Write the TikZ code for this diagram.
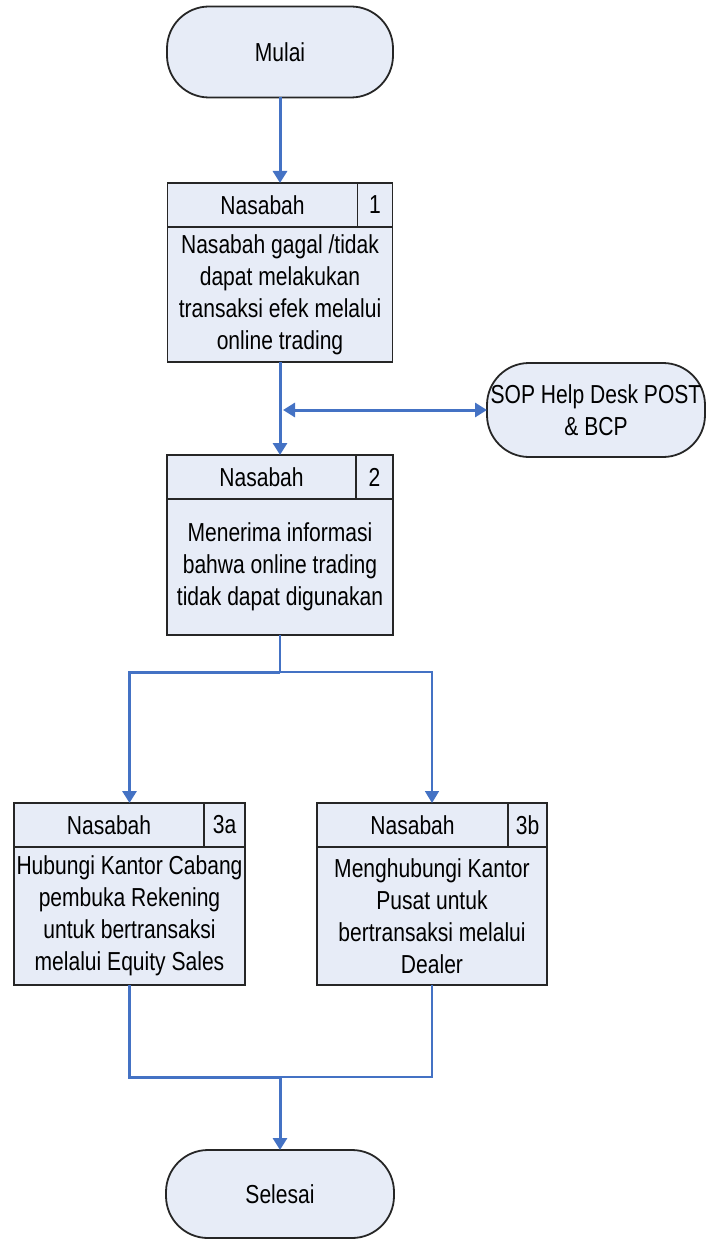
\documentclass[tikz,border=0pt]{standalone}
\usepackage{fontspec}
\setmainfont{Liberation Sans}[FakeStretch=0.81]
\usepackage{tikz}
\usetikzlibrary{arrows.meta, calc}

\definecolor{boxfill}{RGB}{231,236,247}
\definecolor{flowblue}{RGB}{68,114,196}

\begin{document}
\begin{tikzpicture}[x=1pt, y=-1pt,
        every node/.style={font=\fontsize{26}{32}\selectfont, inner sep=0pt, outer sep=0pt},
        term/.style={draw=black!85, line width=1.8pt, fill=boxfill, rounded corners=42pt, align=center},
        head/.style={draw=black!85, line width=1.6pt, fill=boxfill, minimum height=44pt},
        body/.style={draw=black!85, line width=1.6pt, fill=boxfill, align=center},
        flow/.style={draw=flowblue, line width=3pt, -{Triangle[width=14pt,length=12pt]}},
        thinflow/.style={flow, line width=1.8pt},
        link/.style={draw=flowblue, line width=3pt},
        thinlink/.style={draw=flowblue, line width=1.8pt}]
        \useasboundingbox (0,0) rectangle (706,1241);

        % Start
        \node[term, minimum width=226pt, minimum height=91pt] (start) at (280,52) {Mulai};

        % Step 1
        \node[head, minimum width=225pt, anchor=north west] (h1) at (167.5,183) {};
        \node[head, minimum width=35pt, anchor=north east] (n1) at (h1.north east) {1};
        \node (t1) at ($(h1.west)!0.5!(n1.west)$) {Nasabah};
        \node[body, minimum width=225pt, minimum height=135pt, anchor=north west] (b1) at (h1.south west)
            {Nasabah gagal /tidak\\dapat melakukan\\transaksi efek melalui\\online trading};

        % Side terminal
        \node[term, minimum width=218pt, minimum height=94pt] (sop) at (596,410) {SOP Help Desk POST\\\& BCP};

        % Step 2
        \node[head, minimum width=226pt, anchor=north west] (h2) at (167,455) {};
        \node[head, minimum width=37pt, anchor=north east] (n2) at (h2.north east) {2};
        \node (t2) at ($(h2.west)!0.5!(n2.west)$) {Nasabah};
        \node[body, minimum width=226pt, minimum height=136pt, anchor=north west] (b2) at (h2.south west)
            {Menerima informasi\\bahwa online trading\\tidak dapat digunakan};

        % Step 3a
        \node[head, minimum width=231pt, anchor=north west] (h3a) at (14,803) {};
        \node[head, minimum width=41pt, anchor=north east] (n3a) at (h3a.north east) {3a};
        \node (t3a) at ($(h3a.west)!0.5!(n3a.west)$) {Nasabah};
        \node[body, minimum width=231pt, minimum height=138pt, anchor=north west] (b3a) at (h3a.south west)
            {Hubungi Kantor Cabang\\pembuka Rekening\\untuk bertransaksi\\melalui Equity Sales};

        % Step 3b
        \node[head, minimum width=230pt, anchor=north west] (h3b) at (317,803) {};
        \node[head, minimum width=39pt, anchor=north east] (n3b) at (h3b.north east) {3b};
        \node (t3b) at ($(h3b.west)!0.5!(n3b.west)$) {Nasabah};
        \node[body, minimum width=230pt, minimum height=138pt, anchor=north west] (b3b) at (h3b.south west)
            {Menghubungi Kantor\\Pusat untuk\\bertransaksi melalui\\Dealer};

        % End
        \node[term, minimum width=228pt, minimum height=88pt] (end) at (280,1194) {Selesai};

        % Junction points
        \coordinate (j1) at (b1.south |- sop.west);
        \coordinate (split) at (280,672);
        \coordinate (merge) at (280,1077);

        % Main flow
        \draw[flow] (start.south) -- (h1.north);
        \draw[flow] (b1.south) -- (h2.north);
        \draw[flow, {Triangle[width=14pt,length=12pt]}-{Triangle[width=14pt,length=12pt]}, shorten <=3pt] (j1) -- (sop.west);

        % Branch to 3a and 3b
        \draw[thinlink] (b2.south) -- (split);
        \draw[flow] (split) -| (h3a.north);
        \draw[thinflow] (split) -| (h3b.north);

        % Merge to end
        \draw[link] (b3a.south) |- (merge);
        \draw[thinlink] (b3b.south) |- (merge);
        \draw[flow] (merge) -- (end.north);
    \end{tikzpicture}
\end{document}
